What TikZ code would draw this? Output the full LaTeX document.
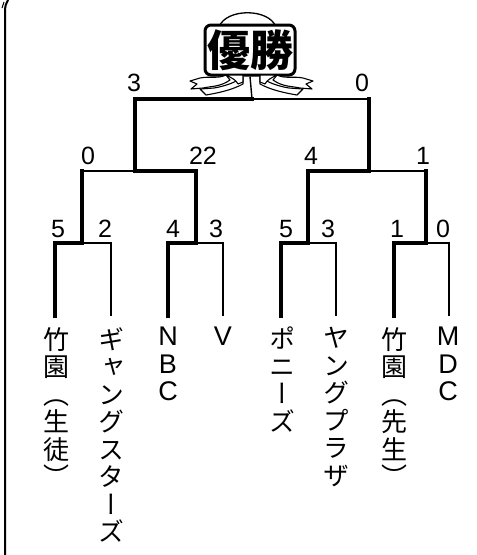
\documentclass[tikz,border=0pt]{standalone}
\usepackage{fontspec}
\newfontfamily\jp{Noto Sans CJK JP}
\newfontfamily\jpv[RawFeature=+vert]{Noto Sans CJK JP}
\newfontfamily\lat{Liberation Sans}
\begin{document}
\begin{tikzpicture}[x=1pt,y=-1pt,
  thinln/.style={line width=1.4pt},
  thickln/.style={line width=4pt, line join=miter, line cap=rect},
  score/.style={font=\lat\fontsize{25}{25}\selectfont, anchor=base, inner sep=0pt},
  team/.style={font=\jpv\fontsize{26}{27.5}\selectfont, anchor=north, align=center, inner sep=0pt},
  teamlat/.style={team, font=\lat\fontsize{27}{27.5}\selectfont},
  ribbon/.style={draw, fill=white, line width=1.1pt, line join=round}]
\useasboundingbox (0,0) rectangle (477,555);
\fill[white] (0,0) rectangle (477,555);
% frame edge
\draw[line width=2pt] (5,555) -- (5,12) .. controls (5,6) and (6,3) .. (8,0);
\draw[line width=1pt] (2,8) -- (4,2);
% coordinates
\foreach \n/\x in {1/55,2/111,3/168,4/223,5/281,6/336,7/394,8/449}{
  \coordinate (L\n) at (\x,316);
  \coordinate (T\n) at (\x,243);
}
\coordinate (Q1) at (82,243);  \coordinate (A1) at (82,171);
\coordinate (Q2) at (196,243); \coordinate (A2) at (196,171);
\coordinate (Q3) at (308,243); \coordinate (A3) at (308,171);
\coordinate (Q4) at (426,243); \coordinate (A4) at (426,171);
\coordinate (S1) at (135,171); \coordinate (F1) at (135,99);
\coordinate (S2) at (369,171); \coordinate (F2) at (369,99);
\coordinate (F) at (252,99);
% trophy
\draw[line width=1.3pt] (219,27) .. controls (226,8) and (269,8) .. (276,27);
\node[draw, fill=white, line width=3pt, rounded corners=6pt, minimum width=90pt, minimum height=50pt, inner sep=0pt,
  font=\jp\bfseries\fontsize{43}{43}\selectfont] (trophy) at (250,50) {優勝};
% ribbons
\begin{scope}
  \path[ribbon] (226,75) .. controls (218,79) and (210,76) .. (200,78) -- (190,81) -- (197,84) -- (191,89)
     -- (203,88) .. controls (212,86) and (220,87) .. (230,80) -- cycle;
  \path[ribbon] (200,89) -- (206,95) .. controls (218,93) and (232,90) .. (243,84) -- (243,77)
     .. controls (236,82) and (226,86) .. (214,88) -- cycle;
  \path[ribbon] (226,75) .. controls (232,78) and (236,80) .. (238,84) -- (243,82) -- (243,75) -- cycle;
\end{scope}
\begin{scope}[xshift=503pt, xscale=-1]
  \path[ribbon] (226,75) .. controls (218,79) and (210,76) .. (200,78) -- (190,81) -- (197,84) -- (191,89)
     -- (203,88) .. controls (212,86) and (220,87) .. (230,80) -- cycle;
  \path[ribbon] (200,89) -- (206,95) .. controls (218,93) and (232,90) .. (243,84) -- (243,77)
     .. controls (236,82) and (226,86) .. (214,88) -- cycle;
  \path[ribbon] (226,75) .. controls (232,78) and (236,80) .. (238,84) -- (243,82) -- (243,75) -- cycle;
\end{scope}
% thin connectors
\draw[thinln] (trophy.south) -- (F);
\draw[thinln] (L2) -- (T2) -- (Q1);
\draw[thinln] (L4) -- (T4) -- (Q2);
\draw[thinln] (L6) -- (T6) -- (Q3);
\draw[thinln] (L8) -- (T8) -- (Q4);
\draw[thinln] (A1) -- (S1);
\draw[thinln] (A4) -- (S2);
\draw[thinln] (F2) -- (F);
% thick (winning) connectors
\draw[thickln] (L1) -- (T1) -- (Q1) -- (A1);
\draw[thickln] (L3) -- (T3) -- (Q2) -- (A2) -- (S1) -- (F1) -- (F);
\draw[thickln] (L5) -- (T5) -- (Q3) -- (A3) -- (S2) -- (F2);
\draw[thickln] (L7) -- (T7) -- (Q4) -- (A4);
% scores
\node[score] (sf1) at (134,91) {3};
\node[score] (sf2) at (362,91) {0};
\node[score] (ss1) at (88,164) {0};
\node[score] (ss2) at (203,164) {22};
\node[score] (ss3) at (311,164) {4};
\node[score] (ss4) at (423,164) {1};
\node[score] (sq1) at (58,237) {5};
\node[score] (sq2) at (105,237) {2};
\node[score] (sq3) at (173,237) {4};
\node[score] (sq4) at (216,237) {3};
\node[score] (sq5) at (286,237) {5};
\node[score] (sq6) at (328,237) {3};
\node[score] (sq7) at (397,237) {1};
\node[score] (sq8) at (443,237) {0};
% teams
\node[team] (t1) at (56,327) {竹\\園\\（\\生\\徒\\）};
\node[team] (t2) at (111,327) {ギ\\ャ\\ン\\グ\\ス\\タ\\ー\\ズ};
\node[teamlat] (t3) at (168,327) {N\\B\\C};
\node[teamlat] (t4) at (223,327) {V};
\node[team] (t5) at (282,327) {ポ\\ニ\\ー\\ズ};
\node[team] (t6) at (336,327) {ヤ\\ン\\グ\\プ\\ラ\\ザ};
\node[team] (t7) at (394,327) {竹\\園\\（\\先\\生\\）};
\node[teamlat] (t8) at (448,327) {M\\D\\C};
\end{tikzpicture}
\end{document}
